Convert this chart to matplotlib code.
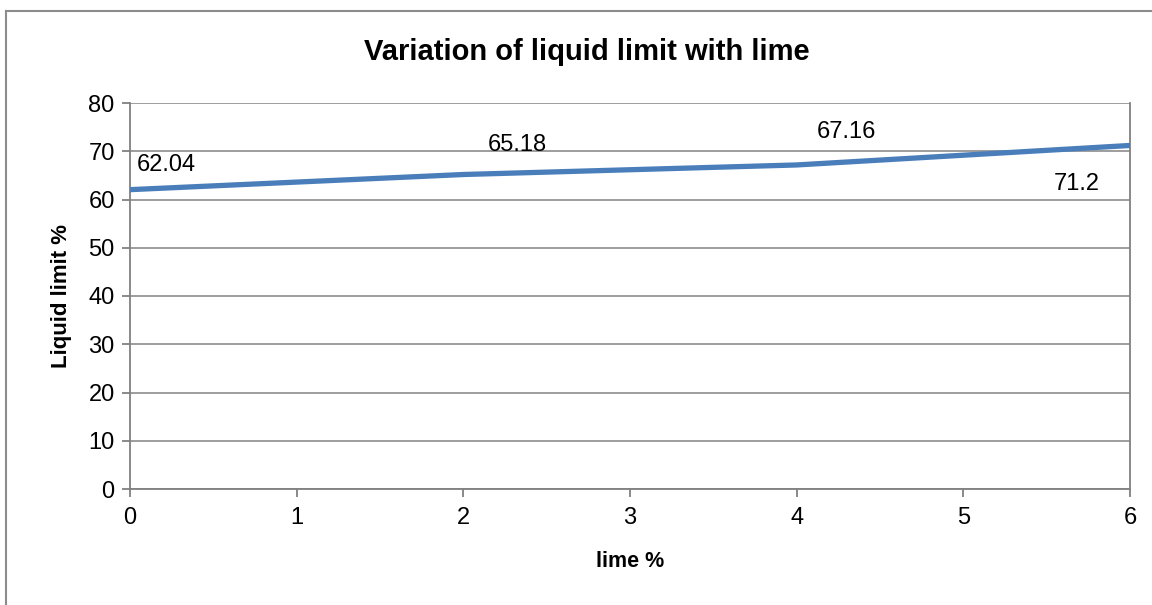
import matplotlib.pyplot as plt
from matplotlib.lines import Line2D

lime = [0, 2, 4, 6]
liquid_limit = [62.04, 65.18, 67.16, 71.2]
label_offsets = [(26, 18), (39, 21), (36, 24), (-38, -28)]  # points

W, H = 1152, 605
plt.rcParams['font.family'] = ['Liberation Sans Narrow', 'Liberation Sans', 'DejaVu Sans']

fig = plt.figure(figsize=(W / 100, H / 100), dpi=100)
ax = fig.add_axes([130 / W, 1 - 489 / H, 1000 / W, 386 / H])

# outer chart border (cut off at right and bottom)
fig.add_artist(Line2D([6 / W, 6 / W], [0, 1 - 11 / H], transform=fig.transFigure, color='#8c8c8c', lw=1.5))
fig.add_artist(Line2D([6 / W, 1], [1 - 11 / H, 1 - 11 / H], transform=fig.transFigure, color='#8c8c8c', lw=1.5))

ax.plot(lime, liquid_limit, color='#4a7ebb', lw=3.8, solid_capstyle='butt', zorder=3)
for x, y, off in zip(lime, liquid_limit, label_offsets):
    ax.annotate(f"{y:g}", (x, y), xytext=off, textcoords='offset points',
                ha='center', va='center', fontsize=17)

ax.set_xlim(0, 6)
ax.set_ylim(0, 80)
ax.set_xticks(range(0, 7))
ax.set_yticks(range(0, 81, 10))
ax.grid(axis='y', color='#8c8c8c', lw=1.2)
ax.set_axisbelow(True)
for side in ['left', 'bottom', 'right']:
    ax.spines[side].set_color('#808080')
    ax.spines[side].set_linewidth(1.3)
ax.spines['top'].set_visible(False)
ax.tick_params(axis='both', color='#808080', length=6, width=1.3, labelsize=17)
ax.tick_params(axis='x', pad=7)
ax.tick_params(axis='y', pad=5)

# title is centred on the whole chart area, not the plot box
fig.text(587 / W, 1 - 52 / H, "Variation of liquid limit with lime", fontsize=21,
         fontweight='bold', ha='center', va='center')
ax.set_xlabel("lime %", fontsize=15.5, fontweight='bold', labelpad=16)
ax.set_ylabel("Liquid limit %", fontsize=16, fontweight='bold', labelpad=12)

fig.savefig("out.png", dpi=100)
